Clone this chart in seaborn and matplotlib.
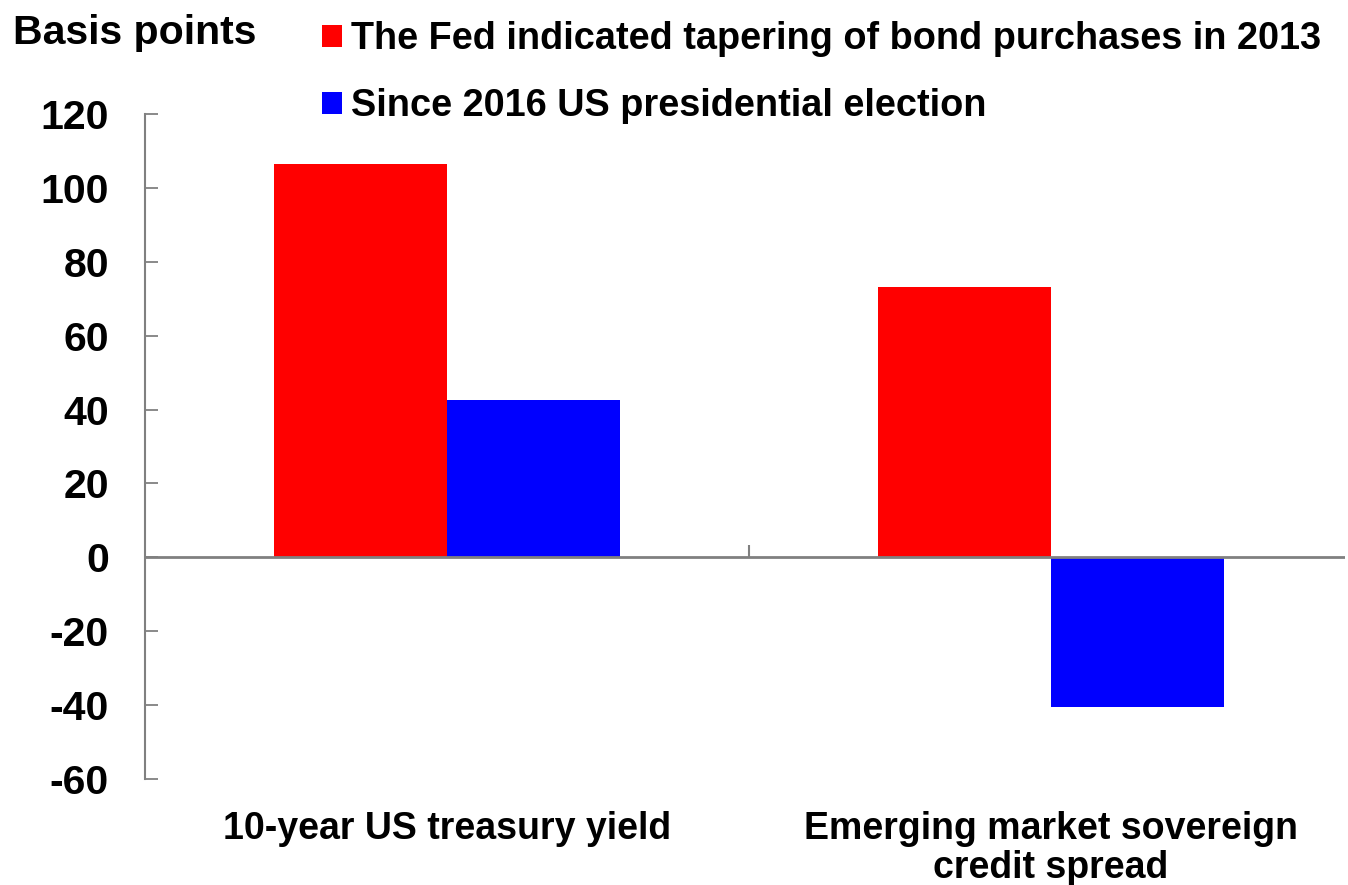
import matplotlib
matplotlib.use("Agg")
import matplotlib.pyplot as plt
import seaborn as sns
import pandas as pd

categories = ["10-year US treasury yield", "Emerging market sovereign\ncredit spread"]
series_names = ["The Fed indicated tapering of bond purchases in 2013",
                "Since 2016 US presidential election"]
taper_2013 = [106.5, 73.3]
election_2016 = [42.7, -40.5]
yticks = [-60, -40, -20, 0, 20, 40, 60, 80, 100, 120]
colors = ["#FF0000", "#0000FF"]

df = pd.DataFrame({
    "category": categories * 2,
    "series": [series_names[0]] * 2 + [series_names[1]] * 2,
    "value": taper_2013 + election_2016,
})

sns.set_style("white")
plt.rcParams["font.family"] = ["Liberation Sans", "DejaVu Sans"]
plt.rcParams["font.weight"] = "bold"
plt.rcParams["text.color"] = "black"
plt.rcParams["xtick.labelcolor"] = "black"
plt.rcParams["ytick.labelcolor"] = "black"

fig = plt.figure(figsize=(13.48, 8.85), dpi=100)
ax = fig.add_axes([145 / 1348, 0.1198, (1345 - 145) / 1348, 0.7514])

sns.barplot(data=df, x="category", y="value", hue="series", palette=colors,
            width=0.573, saturation=1, ax=ax, legend=True, linewidth=0)

ax.set_xlim(-0.5, 1.487)
ax.set_ylim(-60, 120)
ax.set_yticks(yticks)
ax.set_yticklabels([str(v) for v in yticks], fontsize=29.5, fontweight="bold",
                   color="black")
ax.set_xticks([0, 1])
ax.set_xticklabels(categories, fontsize=27, fontweight="bold", color="black",
                   linespacing=1.12)
ax.tick_params(axis="x", length=0, pad=23)
ax.tick_params(axis="y", direction="in", length=9.4, width=1.3, color="#808080",
               pad=26, left=True)
ax.set_xlabel("")
ax.set_ylabel("")

for s in ["top", "right", "bottom"]:
    ax.spines[s].set_visible(False)
ax.spines["left"].set_color("#808080")
ax.spines["left"].set_linewidth(1.5)

ax.axhline(0, color="#808080", linewidth=2, zorder=1)
ax.vlines(0.5, 0, 3.3, color="#808080", linewidth=1.5)

leg = ax.legend(loc="upper left", bbox_to_anchor=(322 / 1348, 0.976),
                bbox_transform=fig.transFigure, frameon=False,
                prop={"size": 27.3, "weight": "bold"},
                handlelength=0.52, handleheight=0.52, handletextpad=0.25,
                labelspacing=0.82, borderaxespad=0, borderpad=0)
for t in leg.get_texts():
    t.set_color("black")

fig.text(0.01, 0.963, "Basis points", fontsize=29.5, fontweight="bold",
         ha="left", va="center", color="black")

fig.savefig("out.png", dpi=100)
